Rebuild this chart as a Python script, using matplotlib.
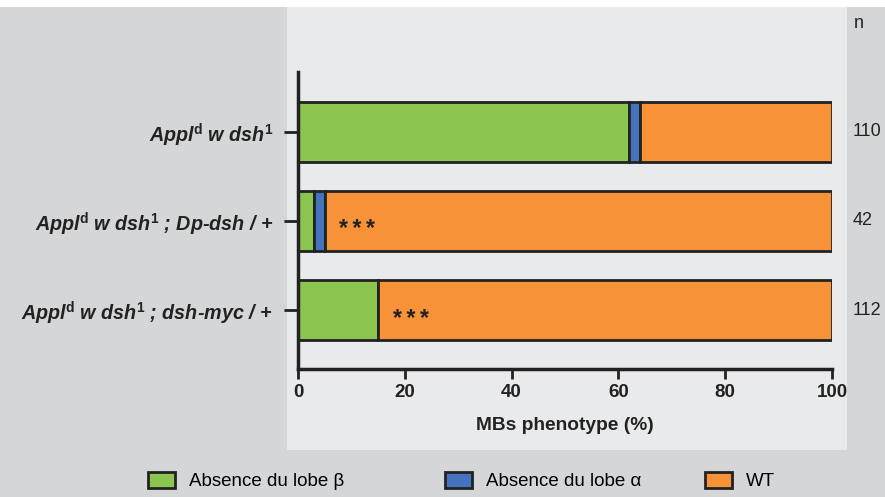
import matplotlib
matplotlib.use("Agg")
import matplotlib.pyplot as plt
from matplotlib.patches import Rectangle

plt.rcParams["font.family"] = ["Liberation Sans", "DejaVu Sans"]
plt.rcParams["mathtext.fontset"] = "custom"
plt.rcParams["mathtext.rm"] = "Liberation Sans:bold"
plt.rcParams["mathtext.it"] = "Liberation Sans:bold:italic"
plt.rcParams["mathtext.bf"] = "Liberation Sans:bold"

# données (%)
GENOTYPES = [
    r"Appl$^{\mathrm{d}}$ w dsh$^{\mathrm{1}}$",
    r"Appl$^{\mathrm{d}}$ w dsh$^{\mathrm{1}}$ ; Dp-dsh / +",
    r"Appl$^{\mathrm{d}}$ w dsh$^{\mathrm{1}}$ ; dsh-myc / +",
]
absence_beta = [62, 3, 15]
absence_alpha = [2, 2, 0]
wt = [36, 95, 85]
n_counts = ["110", "42", "112"]
signif = ["", "***", "***"]

SERIES = [
    ("Absence du lobe β", absence_beta, "#8bc550"),
    ("Absence du lobe α", absence_alpha, "#4474be"),
    ("WT", wt, "#f79239"),
]
LEGEND_X = [148, 445, 705]  # px, bord gauche des carrés

W, H = 885, 497
fig = plt.figure(figsize=(W / 100, H / 100), dpi=100)
fig.patch.set_facecolor("white")

# fonds gris
fig.add_artist(Rectangle((0, 0), 1, (H - 7) / H, transform=fig.transFigure,
                         facecolor="#d5d6d8", edgecolor="none", zorder=-3))
fig.add_artist(Rectangle((287 / W, (H - 450) / H), 560 / W, 443 / H,
                         transform=fig.transFigure,
                         facecolor="#e9eaec", edgecolor="none", zorder=-2))

ax = fig.add_axes([298 / W, (H - 369) / H, 534 / W, 297 / H])
ax.set_facecolor("none")

ypos = list(range(len(GENOTYPES)))
left = [0] * len(GENOTYPES)
bars = []
for label, vals, color in SERIES:
    b = ax.barh(ypos, vals, left=left, height=0.674, color=color,
                edgecolor="#222222", linewidth=2, label=label, zorder=2)
    bars.append(b)
    left = [l + v for l, v in zip(left, vals)]

# étoiles espacées (espace fine entre chaque)
for y, b, a, s in zip(ypos, absence_beta, absence_alpha, signif):
    if s:
        ax.text(b + a + 2.7, y + 0.1, "\u2009".join(s), fontsize=16.5,
                fontweight="bold", va="center", ha="left", color="#222222",
                zorder=3)

ax.set_xlim(0, 100)
ax.set_ylim(2.66, -0.67)
ax.set_yticks(ypos)
ax.set_yticklabels(GENOTYPES, fontsize=14.2, fontweight="bold",
                   fontstyle="italic", color="#222222")
ax.set_xticks([0, 20, 40, 60, 80, 100])
ax.tick_params(axis="x", labelsize=13.5, width=2, length=7, color="#222222",
               labelcolor="#222222", pad=4)
ax.tick_params(axis="y", width=2, length=10, color="#222222", pad=8)
for lbl in ax.get_xticklabels():
    lbl.set_fontweight("bold")
ax.set_xlabel("MBs phenotype (%)", fontsize=13.8, fontweight="bold",
              color="#222222", labelpad=11)

for side in ["top", "right"]:
    ax.spines[side].set_visible(False)
for side in ["left", "bottom"]:
    ax.spines[side].set_linewidth(2.5)
    ax.spines[side].set_color("#222222")

# colonne n
fig.text(854 / W, 1 - 23 / H, "n", fontsize=13, va="center", ha="left",
         color="#222222")
for y, n in zip(ypos, n_counts):
    ax.text(1.0 + 21 / 534, y, n, transform=ax.get_yaxis_transform(),
            fontsize=13, va="center", ha="left", color="#222222")

# légende : une entrée par position
for x, b, (label, _, _) in zip(LEGEND_X, bars, SERIES):
    leg = fig.legend([b], [label], loc="center left",
                     bbox_to_anchor=(x / W, 1 - 481 / H), frameon=False,
                     fontsize=13.5, handlelength=1.45, handleheight=0.95,
                     handletextpad=0.75, borderpad=0, borderaxespad=0)
    for h in leg.legend_handles:
        h.set_linewidth(2)
        h.set_edgecolor("#222222")

fig.savefig("out.png", dpi=100)
